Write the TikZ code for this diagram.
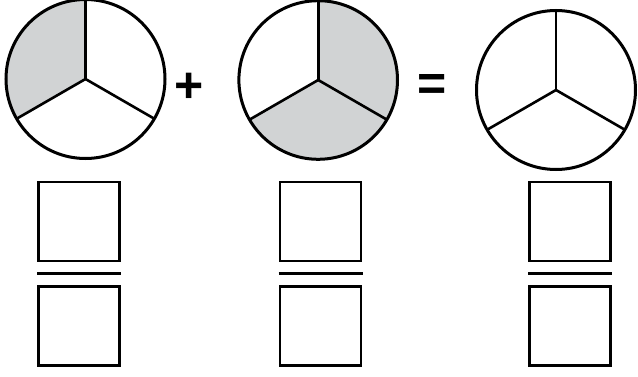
\documentclass[tikz,border=0pt]{standalone}
\usepackage{fontspec}
\setmainfont{Liberation Sans}
\usetikzlibrary{calc}
\definecolor{piegray}{RGB}{209,211,212}
\tikzset{
  pie/.style={circle, draw=black, line width=3pt, minimum size=#1, inner sep=0pt, outer sep=0pt},
  spoke/.style={draw=black, line width=2.6pt},
  ansbox/.style={rectangle, draw=black, line width=2.7pt, minimum width=81pt, minimum height=79pt, inner sep=0pt, outer sep=0pt},
  fracbar/.style={draw=black, line width=3.3pt},
  sign/.style={inner sep=0pt, font=\fontsize{50}{50}\selectfont\bfseries}
}
\begin{document}
\begin{tikzpicture}[x=1pt,y=1pt]
\useasboundingbox (0,0) rectangle (638,376);
% centres
\coordinate (o1) at (85.5,297);
\coordinate (o2) at (318.2,296);
\coordinate (o3) at (556,286);
% shaded sectors
\fill[piegray] (o1) -- ++(90:79.5) arc[start angle=90, end angle=210, radius=79.5] -- cycle;
\fill[piegray] (o2) -- ++(210:79.3) arc[start angle=210, end angle=450, radius=79.3] -- cycle;
% circles
\node[pie=159pt] (c1) at (o1) {};
\node[pie=158.6pt] (c2) at (o2) {};
\node[pie=159pt] (c3) at (o3) {};
\foreach \c in {c1,c2,c3}{
  \draw[spoke] (\c.center) -- (\c.90);
  \draw[spoke] (\c.center) -- (\c.210);
  \draw[spoke] (\c.center) -- (\c.330);
}
% signs
\node[sign] (plus) at (189,288) {+};
\node[sign] (eq) at (432,288.5) {=};
% boxes
\node[ansbox] (t1) at (79,154.5) {};
\node[ansbox] (u1) at (79,50) {};
\node[ansbox] (t2) at (320.5,154.5) {};
\node[ansbox] (u2) at (320.5,50) {};
\node[ansbox] (t3) at (570,154.5) {};
\node[ansbox] (u3) at (570,50) {};
\foreach \i in {1,2,3}{
  \draw[fracbar] ($(t\i.south west)!.5!(u\i.north west)+(-1.4,0)$) -- ($(t\i.south east)!.5!(u\i.north east)+(1.8,0)$);
}
\end{tikzpicture}
\end{document}
